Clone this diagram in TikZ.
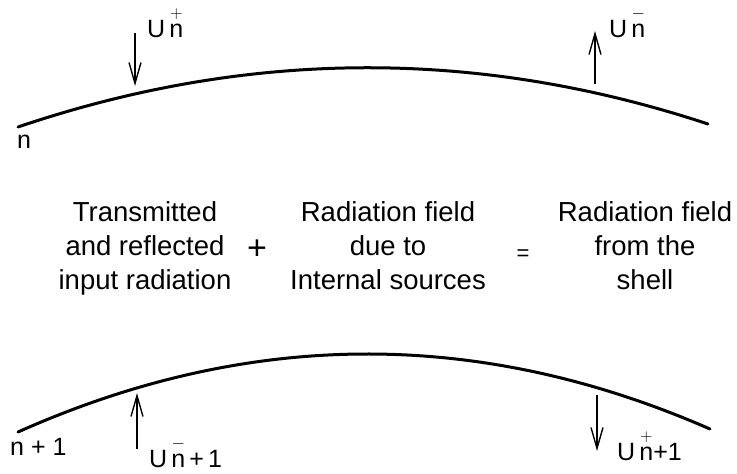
\documentclass[tikz,border=0pt]{standalone}
\usepackage{amsmath}
\usepackage{fontspec}
\setmainfont{Liberation Sans}
\usetikzlibrary{arrows.meta,positioning}

% U with the sign set over the n
\newcommand{\uflux}[2]{U\,$\overset{#1}{\text{n}}$#2}

\begin{document}
\begin{tikzpicture}[x=1pt,y=-1pt,
  shell/.style={line width=3pt,line cap=round},
  flux/.style={line width=1.4pt,-{Straight Barb[length=21pt,width=12pt,line width=1.4pt]}},
  lab/.style={font=\fontsize{25}{28}\selectfont,inner sep=0pt,anchor=base west},
  txt/.style={font=\fontsize{27.5}{34}\selectfont,align=center,inner sep=0pt,anchor=north}]
  \useasboundingbox (0,0) rectangle (737,474);
  % upper boundary n
  \coordinate (nl) at (18,127);
  \coordinate (nr) at (708,124);
  \draw[shell] (nl) .. controls (248,49) and (478,48) .. (nr);
  \node[lab] (n) at (17,148) {n};
  \coordinate (inA) at (135,33);
  \coordinate (inB) at (135,86);
  \draw[flux] (inA) -- (inB);
  \node[lab] (unp) at (147,37) {\uflux{+}{}};
  \coordinate (outA) at (595,84);
  \coordinate (outB) at (595,31);
  \draw[flux] (outA) -- (outB);
  \node[lab] (unm) at (609,37) {\uflux{-}{}};
  % balance in words
  \node[txt] (input) at (145,201) {Transmitted\\and reflected\\input radiation};
  \node[font=\fontsize{34}{34}\selectfont,inner sep=0pt] (plus) at (257,250) {+};
  \node[txt] (source) at (388,201) {Radiation field\\due to\\Internal sources};
  \node[font=\fontsize{22}{22}\selectfont,inner sep=0pt] (equal) at (523,255) {=};
  \node[txt] (total) at (645,201) {Radiation field\\from the\\shell};
  % lower boundary n+1
  \coordinate (ml) at (18,432);
  \coordinate (mr) at (710,429);
  \draw[shell] (ml) .. controls (249,329) and (479,328) .. (mr);
  \node[lab] (m) at (10,455) {n + 1};
  \coordinate (upA) at (137,449);
  \coordinate (upB) at (137,393);
  \draw[flux] (upA) -- (upB);
  \node[lab] (ump) at (149,467) {\uflux{-}{\,+\,1}};
  \coordinate (dnA) at (597,395);
  \coordinate (dnB) at (597,451);
  \draw[flux] (dnA) -- (dnB);
  \node[lab] (umm) at (617,460) {\uflux{+}{+1}};
\end{tikzpicture}
\end{document}
